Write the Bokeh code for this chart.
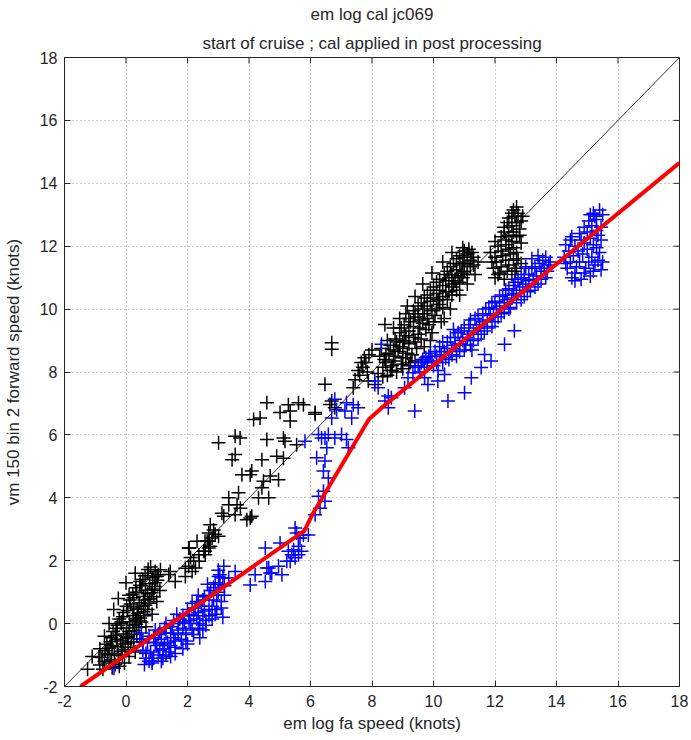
from bokeh.plotting import figure
from bokeh.models import Range1d, FixedTicker, Title, Slope
from bokeh.embed import file_html
from bokeh.resources import INLINE

# ---------------- data ----------------
title_line1 = "em log cal jc069"
title_line2 = "start of cruise ; cal applied in post processing"
x_label = "em log fa speed (knots)"
y_label = "vm 150 bin 2 forward speed (knots)"
ticks = [-2, 0, 2, 4, 6, 8, 10, 12, 14, 16, 18]

# calibration curve (red)
cal_x = [-1.48, 5.8, 6.05, 7.9, 8.3, 18.0]
cal_y = [-2.0, 2.95, 3.45, 6.5, 6.85, 14.65]

# black: calibrated em log vs vm speed
black_low = [(-1.25,-1.45),(-1.1,-1.05),(-0.85,-1.32),(-0.52,-1.25),(-0.22,-1.36),
             (-0.78,-1.08),(-0.47,-1.15),(-0.12,-1.02),(-0.68,-0.86),(-0.38,-0.95),
             (-0.03,-0.82),(-0.62,-0.66),(-0.28,-0.74),(0.07,-0.62),(-0.48,-0.45),
             (-0.18,-0.55),(0.18,-0.48),(-0.42,-0.25),(-0.08,-0.33),(0.27,-0.22),
             (-0.28,-0.05),(0.02,-0.14),(0.33,-0.02),(-0.22,0.15),(0.12,0.06),
             (0.46,0.18),(-0.08,0.35),(0.23,0.26),(0.57,0.38),(0.02,0.55),
             (0.37,0.46),(0.63,0.58),(0.12,0.75),(0.43,0.66),(0.77,0.78),
             (0.22,0.94),(0.57,0.86),(0.83,0.98),(0.32,1.14),(0.63,1.06),
             (0.93,1.18),(0.46,1.34),(0.77,1.27),(1.02,1.38),(0.62,1.52),
             (0.87,1.46),(0.72,1.72),(0.95,1.66),(-0.6,-1.0),(-0.3,-0.5),
             (0.0,-0.4),(-0.15,0.0),(0.25,0.5),(0.1,0.9),(0.5,1.2),
             (-0.45,-0.7),(0.35,0.1),(-0.88,-1.07)]
black_low_fill = [(-0.7,-1.2),(-0.35,-1.3),(-0.05,-1.25),(-0.6,-0.95),(-0.25,-1.0),(0.1,-1.05),
                  (-0.55,-0.78),(-0.15,-0.88),(0.15,-0.75),(-0.5,-0.58),(-0.1,-0.65),(0.25,-0.58),
                  (-0.35,-0.38),(0.05,-0.45),(0.35,-0.35),(-0.32,-0.15),(0.1,-0.25),(0.42,-0.12),
                  (-0.15,0.05),(0.22,-0.05),(0.5,0.05),(-0.1,0.22),(0.3,0.15),(0.6,0.25),
                  (0.05,0.42),(0.4,0.33),(0.7,0.45),(0.15,0.62),(0.5,0.55),(0.75,0.65),
                  (0.25,0.82),(0.6,0.75),(0.9,0.85),(0.35,1.0),(0.7,0.95),(0.45,1.22),
                  (0.85,1.1),(0.55,1.4),(0.95,1.3),(0.7,1.6),(1.05,1.55),(0.8,1.8),
                  (-0.75,-1.45),(-0.45,-1.4),
                  (-0.85,-0.8),(-0.7,-0.4),(-0.55,0.0),(-0.4,0.45),(-0.25,0.8),(0.0,1.3),(0.3,1.6),
                  (0.3,-0.9),(0.5,-0.5),(0.65,-0.1),(0.85,0.3),(1.0,0.7),(1.1,1.05)]
black_mid = [(1.12,1.71),(1.01,1.5),(1.39,1.56),(1.44,1.66),(1.6,1.34),(1.93,1.76),
             (2.1,2.1),(2.05,2.4),(2.38,1.98),(2.57,2.3),(2.7,2.62),(2.9,2.84),
             (2.57,2.62),(1.93,1.5),(2.04,1.82),(2.15,1.66),(2.26,1.77),(2.2,1.98),
             (2.37,2.19),(2.04,2.4),(2.31,2.62),(2.64,2.62),(2.69,2.4),(2.53,2.3),
             (2.58,2.19),(2.74,2.46),(2.8,2.72),(2.69,2.88),(3.01,2.78),(2.85,2.98),
             (2.74,3.14)]
black_scatter = [(3.18,3.41),(3.55,3.46),(4.09,3.41),(3.93,3.3),(4.04,3.36),(3.12,3.51),
                 (3.34,3.78),(3.61,3.78),(3.72,3.67),(3.66,4.16),(3.34,4.0),(4.31,4.0),
                 (4.64,4.0),(4.42,4.32),(4.47,4.53),(4.69,4.69),(4.96,4.57),(3.77,4.73),
                 (4.04,4.73),(4.09,4.85),(3.55,5.38),(3.45,5.21),(4.42,5.21),(4.9,5.32),
                 (5.12,5.26),(3.01,5.75),(3.55,5.96),(3.71,5.9),(4.58,5.85),(5.12,5.9),
                 (5.17,5.8),(5.55,5.69),(4.15,6.49),(4.36,6.54),(5.34,6.44),(5.01,6.71),
                 (5.34,6.76),(6.15,6.71),(4.58,7.02),(5.28,6.96),(5.61,7.02),(5.77,6.96),
                 (6.47,7.61),(6.63,6.97),(6.15,6.66),(6.69,7.08),(6.79,6.86),(6.69,8.93),
                 (6.69,8.72),(8.42,9.51),(7.39,7.5),(7.88,7.71),(8.09,7.6),
                 (7.45,7.75),(7.6,7.9),(7.55,8.05),(7.7,8.15),(7.8,8.3),(7.75,8.45),
                 (7.9,8.55),(8.0,8.7),(7.65,8.3),(7.85,8.0)]
black_band = [(8.2,7.95),(8.5,7.9),(8.8,8.0),(8.35,8.15),(8.65,8.2),(9.0,8.1),
              (8.4,8.4),(8.7,8.35),(9.0,8.45),(9.25,8.3),(8.55,8.6),(8.85,8.65),(9.15,8.6),
              (8.6,8.85),(8.9,8.8),(9.2,8.9),(9.45,8.75),(8.75,9.05),(9.05,9.0),(9.35,9.1),
              (8.9,9.25),(9.2,9.3),(9.5,9.2),(9.75,9.35),(9.05,9.5),(9.35,9.45),(9.65,9.55),
              (9.2,9.7),(9.5,9.75),(9.8,9.7),(10.05,9.8),(9.35,9.95),(9.65,10.0),(9.95,9.95),
              (9.6,10.2),(9.9,10.25),(10.2,10.15),(10.45,10.3),(9.8,10.45),(10.1,10.5),(10.4,10.55),
              (10.0,10.7),(10.3,10.75),(10.6,10.7),(10.85,10.85),(10.2,10.95),(10.5,11.0),(10.8,11.05),
              (10.45,11.2),(10.75,11.25),(11.0,11.2),(11.2,11.35),(10.65,11.45),(10.95,11.5),(11.2,11.55),
              (10.85,11.7),(11.1,11.75),(11.3,11.65),(11.0,11.85),(9.9,9.0),(10.35,9.7),(8.3,8.75)]
black_band_fill = [(8.35,7.85),(8.65,8.05),(8.95,8.25),(8.45,8.3),(8.75,8.5),(9.1,8.45),(8.45,8.55),
                   (8.7,8.7),(9.0,8.75),(9.3,8.55),(8.8,8.95),(9.1,9.15),(9.4,8.95),(9.6,9.05),
                   (8.95,9.4),(9.25,9.6),(9.55,9.4),(9.85,9.5),(9.1,9.85),(9.4,9.85),(9.7,9.85),
                   (10.0,9.6),(9.5,10.1),(9.8,10.1),(10.1,10.0),(10.3,10.05),(9.7,10.35),(10.0,10.35),
                   (10.3,10.4),(10.6,10.45),(9.9,10.6),(10.2,10.6),(10.5,10.55),(10.75,10.6),(10.1,10.85),
                   (10.4,10.9),(10.7,10.9),(10.95,11.0),(10.35,11.1),(10.6,11.1),(10.9,11.15),(11.1,11.1),
                   (10.55,11.35),(10.85,11.4),(11.1,11.45),(11.3,11.4),(10.75,11.6),(11.0,11.65),
                   (11.25,11.8),(10.95,11.95),(11.15,11.9),(9.0,8.95),(9.55,9.65),(10.15,10.3),
                   (10.65,10.8),(8.6,8.05),(9.2,8.2),
                   (8.25,8.5),(8.5,9.0),(8.7,9.4),(8.9,9.7),(9.15,10.1),(9.4,10.4),(9.65,10.8),
                   (9.95,11.15),(10.3,11.5),(10.6,11.8),(9.4,8.35),(9.7,8.8),(9.95,9.25),(10.25,9.6),
                   (10.55,10.0),(10.85,10.45),(11.1,10.8),(11.35,11.1),(11.45,11.5)]
black_top = [(12.0,11.0),(12.3,10.95),(12.55,11.1),(11.95,11.3),(12.2,11.35),(12.45,11.4),
             (12.7,11.3),(12.0,11.65),(12.25,11.7),(12.5,11.75),(12.75,11.6),(12.1,12.0),
             (12.35,12.05),(12.6,11.95),(12.85,12.1),(12.2,12.3),(12.45,12.35),(12.7,12.3),
             (12.3,12.6),(12.55,12.65),(12.8,12.55),(12.45,12.9),(12.65,12.95),(12.6,13.15),
             (12.75,13.05),(12.35,12.2),(11.85,11.8),
             (12.15,11.15),(12.4,11.2),(12.65,11.2),(12.05,11.5),(12.35,11.55),(12.6,11.55),
             (12.85,11.45),(12.2,11.85),(12.45,11.9),(12.7,11.8),(12.0,12.15),(12.55,12.15),
             (12.8,12.35),(12.3,12.45),(12.6,12.45),(12.4,12.75),(12.7,12.75),(12.85,12.8),
             (12.55,13.05),(12.7,13.25),(12.9,12.95),(12.1,11.1),(11.9,11.5)]

# blue: raw em log vs vm speed
blue_low = [(0.45,-0.5),(0.55,-0.85),(0.65,-1.1),(0.7,-0.6),(0.8,-0.9),(0.6,-1.3),(0.85,-1.25),(0.5,-0.3),
            (0.9,-0.45),(1.0,-0.7),(1.05,-1.0),(1.15,-0.5),(1.2,-0.8),(0.95,-0.2),(1.1,-0.25),(1.2,-1.1),
            (1.3,-0.3),(1.35,-0.6),(1.4,-0.9),(1.5,-0.1),(1.55,-0.45),(1.6,-0.75),(1.3,0.0),(1.45,-1.05),
            (1.7,-0.2),(1.75,0.15),(1.8,-0.5),(1.9,0.05),(1.95,-0.3),(2.0,-0.65),(1.65,0.3),(1.85,-0.8),
            (2.05,0.3),(2.1,0.0),(2.2,-0.35),(2.25,0.5),(2.3,0.15),(2.35,-0.15),(2.15,0.65),(2.4,-0.45),
            (2.45,0.55),(2.5,0.25),(2.55,0.85),(2.6,-0.05),(2.7,0.45),(2.75,1.05),(2.8,0.15),(2.65,1.25),
            (2.85,0.75),(2.9,1.3),(2.95,0.45),(3.0,1.0),(3.05,1.55),(3.1,0.7),(3.2,1.2),(3.0,1.7),(3.15,0.2),
            (-0.39,-1.42),(0.85,-1.2)]
blue_low_fill = [(0.55,-0.6),(0.65,-0.95),(0.75,-0.4),(0.75,-1.2),(0.95,-0.6),(0.9,-1.1),(1.05,-0.35),
                 (1.1,-0.85),(1.25,-0.15),(1.25,-0.65),(1.3,-1.0),(1.45,-0.3),(1.45,-0.7),(1.55,0.1),
                 (1.6,-0.55),(1.7,0.0),(1.7,-0.35),(1.85,0.25),(1.85,-0.15),(1.95,-0.55),(2.0,0.45),
                 (2.05,0.1),(2.15,-0.2),(2.2,0.25),(2.3,0.7),(2.35,0.35),(2.4,0.0),(2.5,0.75),
                 (2.55,0.4),(2.6,0.1),(2.7,0.9),(2.7,0.25),(2.8,0.55),(2.85,1.15),(2.9,0.3),
                 (2.95,0.9),(3.05,1.25),(3.1,0.5),(3.15,1.45),(3.2,0.9),(2.35,0.9),(1.6,-0.95),
                 (1.15,-1.2),(2.5,-0.2)]
blue_mid = [(3.18,1.82),(3.55,1.66),(3.34,1.45),(4.04,1.23),(4.2,1.55),(4.53,2.4),(4.64,1.77),(4.74,1.61),
            (4.53,1.34),(4.96,1.82),(5.07,1.55),(5.01,2.56),(5.39,2.19),(5.45,2.35),(5.61,2.46),(5.5,2.09),
            (5.71,2.3),(5.34,1.98),(5.61,2.72),(5.93,2.82),(5.55,2.88),(3.01,1.5),(4.58,1.77),(4.69,1.61),
            (5.28,2.3),(5.23,1.98),(5.66,2.72),(5.77,2.82),(5.5,3.04),(5.61,2.19)]
blue_steep = [(6.15,3.46),(6.31,3.67),(6.47,3.89),(6.26,4.05),(6.42,4.21),(6.58,4.63),(6.42,4.85),
              (6.47,5.17),(6.2,5.27),(6.53,5.59),(6.36,5.9),(6.26,6.01),(6.58,6.01),(6.47,5.9),
              (6.79,5.9),(7.01,6.01),(7.17,5.85),(7.23,5.59),(5.82,5.8),(6.69,6.54),(6.85,6.8),
              (7.17,7.02),(7.39,6.96),(7.55,6.86),(7.34,6.54),(7.12,6.76),(6.79,7.13)]
blue_scatter = [(8.31,8.88),(8.42,7.08),(8.63,7.18),(8.53,6.86),(8.09,7.71),(8.2,7.5),(9.39,6.76),
                (10.47,7.08),(9.82,7.6),(10.14,7.71),(9.71,7.82),(9.17,7.82),(9.33,7.98),(11.55,8.14),
                (11.23,7.82),(11.01,7.34),(10.36,7.92),(8.53,7.24),(9.06,7.5),(12.31,8.88),(12.63,9.31),
                (11.87,8.35),(11.66,8.56)]
blue_band = [(9.4,8.15),(9.6,8.3),(9.75,8.45),(9.8,8.3),(9.9,8.6),(9.55,8.0),(10.0,8.2),
             (10.1,8.5),(10.2,8.8),(10.3,8.3),(10.35,8.65),(10.45,8.95),(10.5,8.4),(10.15,8.05),
             (10.6,8.75),(10.7,9.1),(10.75,8.5),(10.85,8.9),(10.9,9.3),(11.0,8.7),(10.65,9.35),
             (11.1,9.1),(11.15,9.5),(11.2,8.85),(11.3,9.3),(11.35,9.7),(11.45,9.05),(11.5,9.5),
             (11.6,9.85),(11.65,9.3),(11.75,9.65),(11.8,10.05),(11.9,9.45),(11.95,9.85),(12.0,10.25),
             (12.1,9.75),(12.15,10.1),(12.25,10.45),(12.3,9.9),(12.4,10.3),(12.45,10.65),(12.5,10.05),
             (12.6,10.45),(12.65,10.85),(12.7,10.2),(12.8,10.6),(12.85,11.0),(12.95,10.4),(13.0,10.8),
             (13.1,11.1),(13.15,10.6),(13.25,10.95),(13.3,11.35),(13.4,10.8),(13.5,11.2),(13.55,11.55),
             (13.65,11.0),(13.75,11.4),(13.2,11.6)]
blue_band_fill = [(9.5,8.2),(9.65,8.4),(9.7,8.15),(9.85,8.5),(9.95,8.35),(10.05,8.65),(10.1,8.3),
                  (10.25,8.55),(10.3,8.95),(10.4,8.45),(10.45,8.75),(10.55,9.1),(10.6,8.55),(10.7,8.85),
                  (10.8,9.25),(10.85,8.65),(10.95,9.0),(11.0,9.4),(11.05,8.85),(11.15,9.2),(11.2,9.65),
                  (11.3,9.0),(11.4,9.4),(11.45,9.8),(11.55,9.2),(11.6,9.6),(11.7,10.0),(11.75,9.4),
                  (11.85,9.8),(11.9,10.2),(12.0,9.6),(12.05,10.0),(12.15,10.4),(12.2,9.85),(12.3,10.2),
                  (12.35,10.6),(12.45,10.0),(12.55,10.35),(12.6,10.75),(12.7,10.5),(12.75,10.95),
                  (12.85,10.3),(12.9,10.7),(12.95,11.1),(13.05,10.55),(13.1,10.9),(13.2,11.3),
                  (13.3,10.7),(13.35,11.05),(13.45,11.45),(13.5,10.95),(13.6,11.3),(13.65,11.65),
                  (13.7,11.2),(13.8,11.5),(13.4,11.7),(13.0,11.35),(11.25,8.7)]
blue_top = [(14.5,11.0),(14.8,10.95),(15.1,11.05),(14.35,11.3),(14.65,11.35),(14.95,11.3),(15.25,11.4),
            (15.45,11.25),(14.25,11.65),(14.55,11.7),(14.85,11.75),(15.15,11.65),(15.4,11.8),(14.3,12.05),
            (14.6,12.0),(14.9,12.1),(15.2,12.05),(15.45,12.2),(14.75,12.4),(15.0,12.45),(15.3,12.5),
            (15.05,12.8),(15.3,12.85),(15.4,13.15),(15.2,13.05),(14.5,12.3),
            (14.6,11.15),(14.9,11.15),(15.2,11.2),(14.45,11.5),(14.75,11.5),(15.05,11.5),(15.35,11.55),
            (14.4,11.85),(14.7,11.85),(15.0,11.9),(15.3,11.95),(14.45,12.2),(14.8,12.2),(15.1,12.25),
            (15.35,12.35),(14.9,12.6),(15.15,12.65),(15.45,12.6),(15.25,12.95),(15.5,13.0),(15.1,13.0),
            (14.6,10.9),(15.5,11.5),(14.3,11.45)]

black_pts = black_low + black_low_fill + black_mid + black_scatter + black_band + black_band_fill + black_top
blue_pts = blue_low + blue_low_fill + blue_mid + blue_steep + blue_scatter + blue_band + blue_band_fill + blue_top
black_x = [q[0] for q in black_pts]
black_y = [q[1] for q in black_pts]
blue_x = [q[0] for q in blue_pts]
blue_y = [q[1] for q in blue_pts]

# ---------------- figure ----------------
FONT = "Liberation Sans"
AX = "#262626"
X0, X1, Y0, Y1 = -2, 18, -2, 18
FRAME_W, FRAME_H = 617, 631
TICK_PX = 6

p = figure(width=691, height=740, x_range=Range1d(X0, X1), y_range=Range1d(Y0, Y1),
           output_backend="svg", toolbar_location=None,
           min_border_left=62, min_border_right=12, min_border_top=0, min_border_bottom=54)
p.background_fill_color = "white"
p.border_fill_color = "white"
p.outline_line_color = AX
p.outline_line_width = 1

p.xaxis.axis_label = x_label
p.yaxis.axis_label = y_label
for ax in (p.xaxis[0], p.yaxis[0]):
    ax.ticker = FixedTicker(ticks=ticks)
    ax.major_tick_in = TICK_PX
    ax.major_tick_out = 0
    ax.minor_tick_in = 0
    ax.minor_tick_out = 0
    ax.axis_line_color = AX
    ax.major_tick_line_color = AX
    ax.major_label_text_font = FONT
    ax.major_label_text_font_size = "16px"
    ax.major_label_text_color = AX
    ax.axis_label_text_font = FONT
    ax.axis_label_text_font_size = "17px"
    ax.axis_label_text_font_style = "normal"
    ax.axis_label_text_color = AX
    ax.major_label_overrides = {t: str(t) for t in ticks}
p.xaxis[0].major_label_standoff = 8
p.xaxis[0].axis_label_standoff = 4
p.yaxis[0].major_label_standoff = 7
p.yaxis[0].axis_label_standoff = 14

p.xgrid.ticker = FixedTicker(ticks=ticks)
p.ygrid.ticker = FixedTicker(ticks=ticks)
p.grid.grid_line_color = "#9a9a9a"
p.grid.grid_line_dash = "1 3"
p.grid.grid_line_width = 1

# tick marks on the top and right frame edges (MATLAB box style)
dy = (Y1 - Y0) * TICK_PX / FRAME_H
dx = (X1 - X0) * TICK_PX / FRAME_W
p.segment(x0=ticks, y0=[Y1] * len(ticks), x1=ticks, y1=[Y1 - dy] * len(ticks),
          line_color=AX, line_width=1)
p.segment(x0=[X1] * len(ticks), y0=ticks, x1=[X1 - dx] * len(ticks), y1=ticks,
          line_color=AX, line_width=1)

p.scatter(black_x, black_y, marker="cross", size=14, line_color="black", line_width=1.5)
p.scatter(blue_x, blue_y, marker="cross", size=14, line_color="#0000ff", line_width=1.5)
p.add_layout(Slope(gradient=1, y_intercept=0, line_color="black", line_width=0.8))
p.line(cal_x, cal_y, line_color="#ff0000", line_width=4)

p.add_layout(Title(text=title_line2, align="center", text_font=FONT, text_font_size="17px",
                   text_font_style="normal", text_color=AX, standoff=10), "above")
p.add_layout(Title(text=title_line1, align="center", text_font=FONT, text_font_size="17px",
                   text_font_style="normal", text_color=AX, standoff=5), "above")

open("out.html", "w").write(file_html(p, INLINE))
